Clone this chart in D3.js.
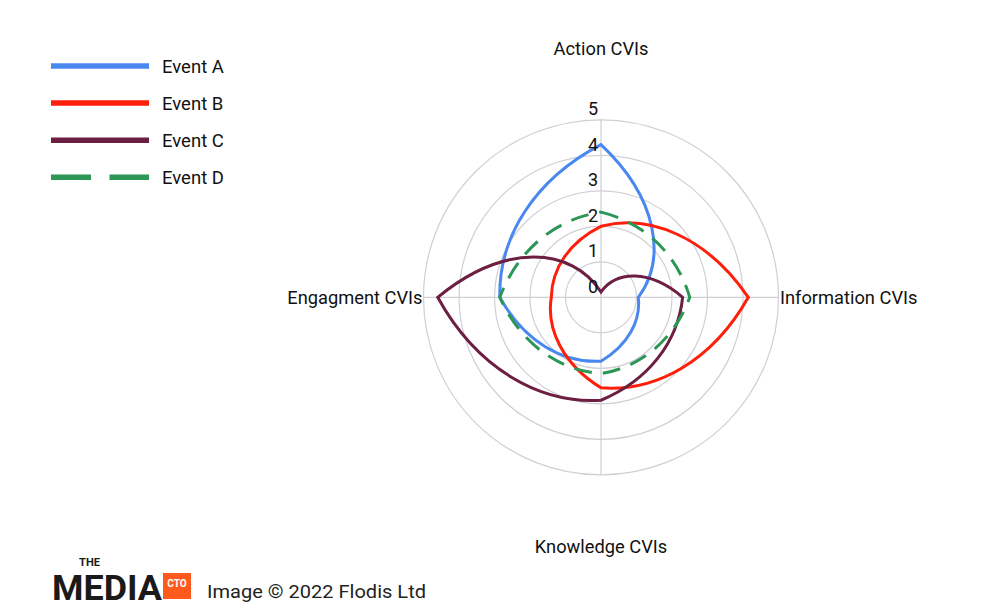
<!DOCTYPE html>
<html>
<head>
<meta charset="utf-8">
<script src="https://cdn.jsdelivr.net/npm/d3@7"></script>
<style>
  body { margin: 0; background: #fff; }
  svg text { font-family: Roboto, "Noto Sans", sans-serif; fill: #111; }
</style>
</head>
<body>
<svg id="chart" width="1000" height="613"></svg>
<script>
// data
var axes = ["Action CVIs", "Information CVIs", "Knowledge CVIs", "Engagment CVIs"];
var seriesNames = ["Event A", "Event B", "Event C", "Event D"];
var eventA = [4.3, 1.05, 1.8, 2.85];
var eventB = [2.0, 4.15, 2.55, 1.4];
var eventC = [0.15, 2.3, 2.9, 4.6];
var eventD = [2.4, 2.5, 2.15, 2.85];
var ticks = [0, 1, 2, 3, 4, 5];

var colors = ["#4a88f0", "#ff1e0a", "#6c1f40", "#2b9656"];
var dashes = [null, null, null, "18,11"];
var allSeries = [eventA, eventB, eventC, eventD];

var svg = d3.select("#chart");
var cx = 601, cy = 297.3, R = 177.5;

var r = d3.scaleLinear().domain([0, 5]).range([0, R]);
var angle = d3.scaleLinear().domain([0, axes.length]).range([0, 2 * Math.PI]);

// segments are straight in (angle, radius) space, so map their bezier
// control points through the polar transform
function curvePolar(context) {
    var prev = null;
    function xy(a, rad) { return [rad * Math.sin(a), -rad * Math.cos(a)]; }
    return {
        areaStart: function() {},
        areaEnd: function() {},
        lineStart: function() { prev = null; },
        lineEnd: function() { context.closePath(); },
        point: function(a, rad) {
            var p = xy(a, rad);
            if (!prev) {
                context.moveTo(p[0], p[1]);
            } else {
                var a0 = prev[0], r0 = prev[1];
                var c1 = xy(a0 + (a - a0) / 3, r0 + (rad - r0) / 3);
                var c2 = xy(a0 + 2 * (a - a0) / 3, r0 + 2 * (rad - r0) / 3);
                context.bezierCurveTo(c1[0], c1[1], c2[0], c2[1], p[0], p[1]);
            }
            prev = [a, rad];
        }
    };
}

var g = svg.append("g").attr("transform", "translate(" + cx + "," + cy + ")");

// grid
g.selectAll(".ring").data(ticks.slice(1)).enter().append("circle")
    .attr("r", function(d) { return r(d); })
    .attr("fill", "none")
    .attr("stroke", "#cfcfd4")
    .attr("stroke-width", 1.2);

g.selectAll(".spoke").data(axes).enter().append("line")
    .attr("x1", 0).attr("y1", 0)
    .attr("x2", function(d, i) { return R * Math.sin(angle(i)); })
    .attr("y2", function(d, i) { return -R * Math.cos(angle(i)); })
    .attr("stroke", "#cfcfd4")
    .attr("stroke-width", 1.2);

// series
var line = d3.line()
    .x(function(d) { return angle(d.i); })
    .y(function(d) { return r(d.v); })
    .curve(curvePolar);

allSeries.forEach(function(vals, k) {
    var pts = vals.map(function(v, i) { return {i: i, v: v}; });
    pts.push({i: vals.length, v: vals[0]});
    g.append("path")
        .attr("d", line(pts))
        .attr("fill", "none")
        .attr("stroke", colors[k])
        .attr("stroke-width", 3)
        .attr("stroke-linejoin", "miter")
        .attr("stroke-dasharray", dashes[k]);
});

// tick labels
g.selectAll(".tick").data(ticks).enter().append("text")
    .attr("x", -3)
    .attr("y", function(d) { return -r(d) - 4.5; })
    .attr("text-anchor", "end")
    .attr("font-size", 18)
    .text(function(d) { return d; });

// axis titles
var titlePos = [
    {x: 0, y: -R - 65, anchor: "middle"},
    {x: R + 1.5, y: 7, anchor: "start"},
    {x: 0, y: R + 78, anchor: "middle"},
    {x: -R - 1, y: 7, anchor: "end"}
];
g.selectAll(".axis-title").data(axes).enter().append("text")
    .attr("x", function(d, i) { return titlePos[i].x; })
    .attr("y", function(d, i) { return titlePos[i].y; })
    .attr("text-anchor", function(d, i) { return titlePos[i].anchor; })
    .attr("font-size", 18.3)
    .text(function(d) { return d; });

// legend
var legend = svg.append("g").attr("transform", "translate(51,66)");
var item = legend.selectAll(".item").data(seriesNames).enter().append("g")
    .attr("transform", function(d, i) { return "translate(0," + (i * 37.1) + ")"; });
item.append("line")
    .attr("x1", 0).attr("x2", 98)
    .attr("stroke", function(d, i) { return colors[i]; })
    .attr("stroke-width", 5.5)
    .attr("stroke-dasharray", function(d, i) { return i == 3 ? "40,18.5" : null; });
item.append("text")
    .attr("x", 111).attr("y", 6.5)
    .attr("font-size", 18.5)
    .text(function(d) { return d; });

// footer logo + credit
var foot = svg.append("g");
foot.append("text").attr("x", 79).attr("y", 566)
    .attr("font-family", "'Liberation Sans', sans-serif")
    .attr("font-weight", "bold").attr("font-size", 10)
    .attr("textLength", 21).attr("lengthAdjust", "spacingAndGlyphs")
    .style("fill", "#1a1a1a").text("THE");
foot.append("text").attr("x", 52).attr("y", 600)
    .attr("font-family", "'Liberation Sans', sans-serif")
    .attr("font-weight", "bold").attr("font-size", 35)
    .attr("textLength", 110).attr("lengthAdjust", "spacingAndGlyphs")
    .style("fill", "#1a1a1a").text("MEDIA");
foot.append("rect").attr("x", 163).attr("y", 573).attr("width", 28).attr("height", 26)
    .attr("fill", "#ff5a1e");
foot.append("text").attr("x", 177).attr("y", 587)
    .attr("text-anchor", "middle")
    .attr("font-family", "'Liberation Sans', sans-serif")
    .attr("font-weight", "bold").attr("font-size", 10)
    .style("fill", "#fff").text("CTO");
foot.append("text").attr("x", 207).attr("y", 597.5)
    .attr("font-family", "'Open Sans', Lato, sans-serif")
    .attr("font-size", 18.5)
    .attr("textLength", 219).attr("lengthAdjust", "spacingAndGlyphs")
    .style("fill", "#222").text("Image \u00a9 2022 Flodis Ltd");
</script>
</body>
</html>
